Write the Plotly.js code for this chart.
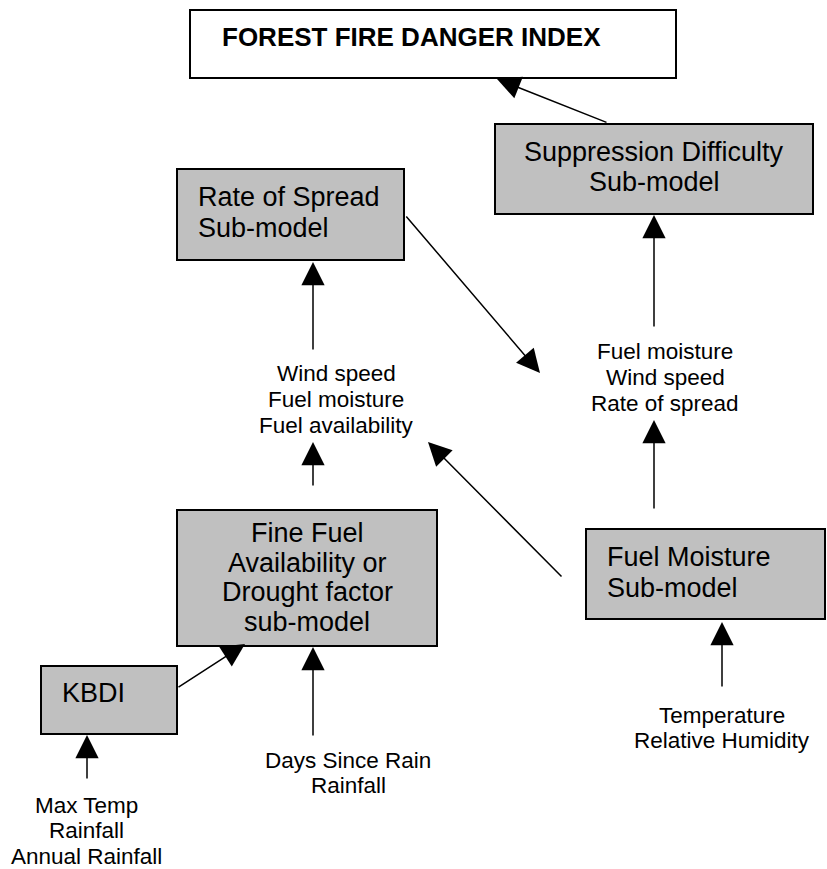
<!DOCTYPE html>
<html>
<head>
<meta charset="utf-8">
<script src="https://cdn.plot.ly/plotly-3.0.1.min.js"></script>
<style>html,body{margin:0;padding:0;background:#fff;}#chart{width:827px;height:869px;}</style>
</head>
<body>
<div id="chart"></div>
<script>
// ---- diagram content ----
const boxNames = ['FOREST FIRE DANGER INDEX', 'Suppression Difficulty Sub-model', 'Rate of Spread Sub-model',
  'Fine Fuel Availability or Drought factor sub-model', 'KBDI', 'Fuel Moisture Sub-model'];
const boxLines = [
  ['FOREST FIRE DANGER INDEX'],
  ['Suppression Difficulty', 'Sub-model'],
  ['Rate of Spread', 'Sub-model'],
  ['Fine Fuel', 'Availability or', 'Drought factor', 'sub-model'],
  ['KBDI'],
  ['Fuel Moisture', 'Sub-model']
];
const inputLines = [
  ['Wind speed', 'Fuel moisture', 'Fuel availability'],
  ['Fuel moisture', 'Wind speed', 'Rate of spread'],
  ['Temperature', 'Relative Humidity'],
  ['Days Since Rain', 'Rainfall'],
  ['Max Temp', 'Rainfall', 'Annual Rainfall']
];

// ---- diagram geometry (pixel coordinates on the 827x869 canvas) ----
const boxX0 = [190, 495, 177, 177, 41, 586];
const boxX1 = [676, 813, 404, 437, 177, 825];
const boxY0 = [10, 124, 169, 510, 666, 529];
const boxY1 = [78, 214, 260, 646, 734, 619];
const boxFill = ['#ffffff', '#c0c0c0', '#c0c0c0', '#c0c0c0', '#c0c0c0', '#c0c0c0'];
const boxAlign = ['left', 'center', 'left', 'center', 'left', 'left'];
const boxTextX = [220, 654, 196, 307, 60, 605];
const boxTextY = [37, 152, 197, 533, 693, 557];
const boxLineGap = [0, 30, 31, 29.7, 0, 31];
const boxBold = [true, false, false, false, false, false];

const inputTextX = [336, 665, 722, 348, 86];
const inputTextY = [373, 351, 715, 760, 805];
const inputLineGap = [26, 26, 25, 25, 25.5];

// arrows: tail (from) -> tip (to)
const arrowFromX = [608, 654, 405, 313, 313, 563, 654, 722, 177, 313, 87];
const arrowFromY = [123, 328, 215, 351, 487, 578, 510, 688, 688, 737, 780];
const arrowToX   = [497, 654, 540, 313, 313, 428, 654, 722, 245, 313, 87];
const arrowToY   = [79, 215, 373, 262, 442, 442, 420, 622, 644, 647, 735];

const FONT = 'Liberation Sans, Arial, Helvetica, sans-serif';
const shapes = [];
const annotations = [];

boxNames.forEach((name, i) => {
  shapes.push({
    type: 'rect', xref: 'x', yref: 'y', layer: 'below',
    x0: boxX0[i], x1: boxX1[i], y0: boxY0[i], y1: boxY1[i],
    fillcolor: boxFill[i], line: {color: '#000', width: 2}
  });
  boxLines[i].forEach((ln, j) => {
    annotations.push({
      xref: 'x', yref: 'y', x: boxTextX[i], y: boxTextY[i] + j * boxLineGap[i],
      text: boxBold[i] ? '<b>' + ln + '</b>' : ln, showarrow: false,
      xanchor: boxAlign[i], yanchor: 'middle',
      font: {family: FONT, size: boxBold[i] ? 26 : 27, color: '#000'}
    });
  });
});

inputLines.forEach((lines, i) => {
  lines.forEach((ln, j) => {
    annotations.push({
      xref: 'x', yref: 'y', x: inputTextX[i], y: inputTextY[i] + j * inputLineGap[i],
      text: ln, showarrow: false, xanchor: 'center', yanchor: 'middle',
      font: {family: FONT, size: 22.5, color: '#000'}
    });
  });
});

arrowFromX.forEach((fx, i) => {
  annotations.push({
    xref: 'x', yref: 'y', axref: 'x', ayref: 'y',
    x: arrowToX[i], y: arrowToY[i], ax: fx, ay: arrowFromY[i],
    text: '', showarrow: true, arrowhead: 2, arrowsize: 3.1, arrowwidth: 1.5,
    arrowcolor: '#000', standoff: 0, startstandoff: 0
  });
});

const layout = {
  width: 827, height: 869,
  margin: {l: 0, r: 0, t: 0, b: 0},
  paper_bgcolor: '#fff', plot_bgcolor: '#fff',
  xaxis: {range: [0, 827], visible: false, fixedrange: true},
  yaxis: {range: [869, 0], visible: false, fixedrange: true},
  showlegend: false,
  shapes: shapes,
  annotations: annotations
};

Plotly.newPlot('chart', [], layout, {displayModeBar: false, staticPlot: true});
</script>
</body>
</html>
